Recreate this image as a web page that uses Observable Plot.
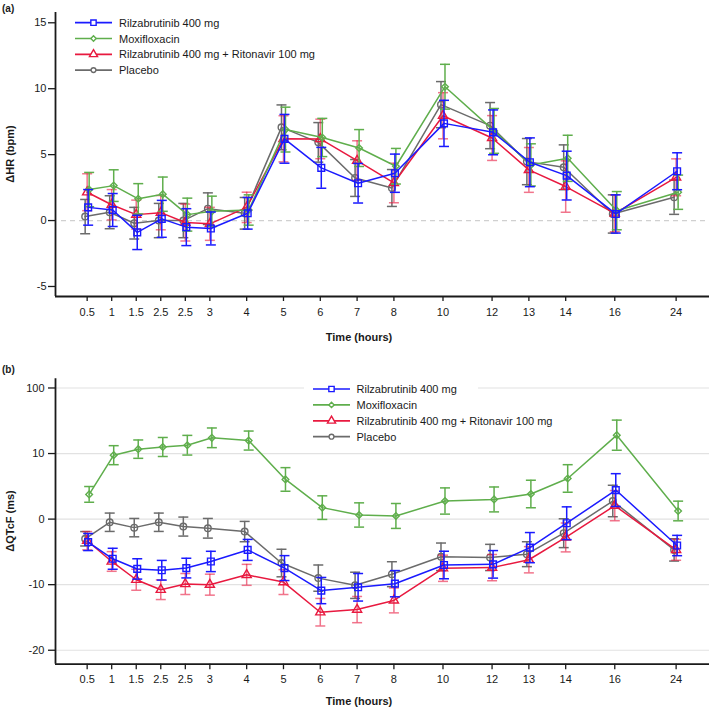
<!DOCTYPE html>
<html>
<head>
<meta charset="utf-8">
<script src="https://cdn.jsdelivr.net/npm/d3@7"></script>
<script src="https://cdn.jsdelivr.net/npm/@observablehq/plot@0.6"></script>
<style>
  html, body { margin: 0; padding: 0; background: #fff; }
  #wrap { width: 709px; }
  #wrap svg { display: block; }
</style>
</head>
<body>
<div id="wrap"></div>
<script>
// ---------------- DATA ----------------
const times = [0.5, 1, 1.5, 2, 2.5, 3, 4, 5, 6, 7, 8, 10, 12, 13, 14, 16, 24];
const timeLabels = ["0.5", "1", "1.5", "2.5", "2.5", "3", "4", "5", "6", "7", "8", "10", "12", "13", "14", "16", "24"];

const seriesNames = ["Rilzabrutinib 400 mg", "Moxifloxacin", "Rilzabrutinib 400 mg + Ritonavir 100 mg", "Placebo"];

// Panel (a): ΔHR (bpm), mean and error half-width
const hrRilza      = [1.0, 0.8, -0.9, 0.13, -0.5, -0.6, 0.55, 6.2, 4.0, 2.83, 3.59, 7.37, 6.69, 4.42, 3.41, 0.5, 3.74];
const hrRilzaErr   = [1.35, 1.25, 1.3, 1.4, 1.4, 1.25, 1.2, 1.85, 1.55, 1.5, 1.45, 1.75, 1.7, 1.85, 1.85, 1.45, 1.4];
const hrMoxi       = [2.35, 2.65, 1.65, 2.0, 0.45, 0.7, 0.8, 6.9, 6.3, 5.5, 4.12, 10.15, 6.8, 4.22, 4.72, 0.75, 2.15];
const hrMoxiErr    = [1.3, 1.2, 1.15, 1.3, 1.25, 1.15, 1.15, 1.7, 1.45, 1.4, 1.35, 1.7, 1.7, 1.6, 1.75, 1.45, 1.3];
const hrRitona     = [2.15, 1.2, 0.45, 0.6, -0.15, -0.25, 1.0, 6.2, 6.19, 4.55, 2.85, 7.95, 6.26, 3.84, 2.58, 0.55, 3.28];
const hrRitonaErr  = [1.4, 1.15, 1.1, 1.3, 1.4, 1.25, 1.15, 1.75, 1.5, 1.5, 1.5, 1.75, 1.7, 1.7, 1.95, 1.4, 1.4];
const hrPlacebo    = [0.3, 0.63, -0.2, 0.0, 0.0, 0.9, 0.55, 7.07, 5.93, 3.23, 2.47, 8.79, 7.2, 4.47, 4.04, 0.5, 1.77];
const hrPlaceboErr = [1.3, 1.25, 1.2, 1.3, 1.3, 1.2, 1.2, 1.7, 1.5, 1.4, 1.4, 1.75, 1.75, 1.75, 1.7, 1.45, 1.3];

// Panel (b): ΔQTcF (ms)
const qtRilza      = [-3.5, -6.05, -7.6, -7.8, -7.47, -6.46, -4.7, -7.47, -10.9, -10.4, -9.85, -7.0, -6.9, -4.35, -0.63, 4.43, -4.03];
const qtRilzaErr   = [1.3, 1.6, 1.55, 1.5, 1.5, 1.55, 1.6, 1.9, 2.0, 2.1, 2.0, 2.1, 2.1, 2.3, 2.5, 2.5, 1.55];
const qtMoxi       = [3.77, 9.75, 10.67, 11.0, 11.27, 12.4, 11.98, 6.05, 1.75, 0.63, 0.48, 2.76, 3.0, 3.83, 6.2, 12.8, 1.24];
const qtMoxiErr    = [1.2, 1.45, 1.4, 1.45, 1.5, 1.5, 1.45, 1.8, 1.8, 1.85, 1.9, 2.0, 1.9, 2.1, 2.1, 2.3, 1.5];
const qtRitona     = [-3.3, -6.46, -9.25, -10.77, -9.9, -10.0, -8.5, -9.6, -14.2, -13.8, -12.4, -7.5, -7.4, -6.2, -2.8, 2.05, -4.68];
const qtRitonaErr  = [1.4, 1.5, 1.6, 1.5, 1.6, 1.6, 1.6, 1.9, 2.1, 2.0, 1.9, 2.0, 2.0, 2.0, 2.2, 2.3, 1.6];
const qtPlacebo    = [-3.0, -0.48, -1.3, -0.48, -1.14, -1.4, -1.9, -6.7, -9.0, -10.1, -8.4, -5.75, -5.85, -5.35, -2.15, 2.76, -4.7];
const qtPlaceboErr = [1.1, 1.4, 1.4, 1.4, 1.45, 1.5, 1.55, 2.1, 2.0, 2.0, 1.9, 2.1, 2.0, 1.9, 2.2, 2.4, 1.7];

// Tick values / labels
const hrTicks = [-5, 0, 5, 10, 15];
const hrTickLabels = ["-5", "0", "5", "10", "15"];
const qtTicks = [-20, -10, 0, 10, 20];
const qtTickLabels = ["-20", "-10", "0", "10", "100"];

// ---------------- STYLE / LAYOUT ----------------
const FONT = "'Liberation Sans', Arial, Helvetica, sans-serif";
const styles = [
  {color: "#1a1aff", symbol: "square",    r: 3.8, lr: 3.0, dx: 1,  errOpacity: 1},
  {color: "#5fae4c", symbol: "diamond2",  r: 3.0, lr: 2.4, dx: 2,  errOpacity: 1},
  {color: "#e8193f", symbol: "triangle",  r: 3.4, lr: 3.0, dx: 0,  errOpacity: 0.6},
  {color: "#6b6b6b", symbol: "circle",    r: 3.3, lr: 2.4, dx: -2, errOpacity: 1}
];
const drawOrder = [3, 2, 1, 0];
// axis slot positions (uneven spacing of the original time axis)
const slotOf = d3.scaleLinear(times, [0, 2, 4, 6, 8, 10, 13, 16, 19, 22, 25, 29, 33, 36, 39, 43, 48]);
const xDomain = [-2.58, 50.72];

const capSymbol = {
  draw(context, size) {
    const w = Math.sqrt(size / Math.PI);
    context.moveTo(-w, 0);
    context.lineTo(w, 0);
  }
};

function buildRows(means, errs) {
  return means.map((m, s) => times.map((t, i) => ({
    series: seriesNames[s], t, slot: slotOf(t), v: m[i], e: errs[s][i]
  })));
}

function seriesMarks(rows) {
  const marks = [];
  for (const s of drawOrder) {
    const st = styles[s];
    const data = rows[s];
    marks.push(
      Plot.ruleX(data, {x: "slot", y1: d => d.v - d.e, y2: d => d.v + d.e, stroke: st.color, strokeWidth: 1.5, strokeOpacity: st.errOpacity, dx: st.dx}),
      Plot.dot(data, {x: "slot", y: d => d.v + d.e, symbol: capSymbol, r: 5, stroke: st.color, strokeWidth: 1.5, strokeOpacity: st.errOpacity, dx: st.dx}),
      Plot.dot(data, {x: "slot", y: d => d.v - d.e, symbol: capSymbol, r: 5, stroke: st.color, strokeWidth: 1.5, strokeOpacity: st.errOpacity, dx: st.dx}),
      Plot.line(data, {x: "slot", y: "v", stroke: st.color, strokeWidth: 1.5, dx: st.dx}),
      Plot.dot(data, {x: "slot", y: "v", symbol: st.symbol, r: st.r, stroke: st.color, fill: "none", strokeWidth: 1.4, dx: st.dx})
    );
  }
  return marks;
}

function addText(svg, x, y, text, opts = {}) {
  const t = svg.append("text")
    .attr("x", x).attr("y", y)
    .attr("font-family", FONT)
    .attr("font-size", opts.size || 11)
    .attr("font-weight", opts.bold ? "bold" : "normal")
    .attr("fill", "#1a1a1a")
    .attr("text-anchor", opts.anchor || "start")
    .attr("dominant-baseline", "central")
    .text(text);
  if (opts.rotate) t.attr("transform", `rotate(-90, ${x}, ${y})`);
  return t;
}

const symbolTypes = {square: d3.symbolSquare, diamond2: d3.symbolDiamond2, triangle: d3.symbolTriangle, circle: d3.symbolCircle};

function addLegend(svg, x0, x1, tx, y0, step, bg) {
  const g = svg.append("g");
  if (bg) g.append("rect").attr("x", bg[0]).attr("y", bg[1]).attr("width", bg[2]).attr("height", bg[3]).attr("fill", "#fff");
  seriesNames.forEach((name, i) => {
    const st = styles[i];
    const y = y0 + i * step;
    g.append("line").attr("x1", x0).attr("x2", x1).attr("y1", y).attr("y2", y)
      .attr("stroke", st.color).attr("stroke-width", 1.7);
    g.append("path").attr("d", d3.symbol(symbolTypes[st.symbol], Math.PI * st.lr * st.lr)())
      .attr("transform", `translate(${(x0 + x1) / 2},${y})`)
      .attr("fill", "#fff").attr("stroke", st.color).attr("stroke-width", 1.4);
    addText(g, tx, y, name, {size: 11});
  });
}

// ---------------- PANEL (a) ----------------
const rowsA = buildRows([hrRilza, hrMoxi, hrRitona, hrPlacebo], [hrRilzaErr, hrMoxiErr, hrRitonaErr, hrPlaceboErr]);
const yDomA = [-5.76, 15.78];
const plotA = Plot.plot({
  width: 709, height: 350,
  marginLeft: 55, marginRight: 0, marginTop: 12, marginBottom: 54,
  style: {fontFamily: FONT, fontSize: "11px", color: "#1a1a1a", background: "#fff"},
  x: {type: "linear", domain: xDomain},
  y: {type: "linear", domain: yDomA},
  marks: [
    Plot.ruleY([0], {stroke: "#d0d0d0", strokeWidth: 1.2, strokeDasharray: "5,4", insetLeft: 6}),
    ...seriesMarks(rowsA),
    Plot.axisY(hrTicks, {tickSize: 7, tickPadding: 2, tickFormat: (d, i) => hrTickLabels[i], fontSize: 11, strokeWidth: 1.3, label: null}),
    Plot.axisX(times.map(t => slotOf(t)), {tickSize: 5, tickPadding: 7, tickFormat: (d, i) => timeLabels[i], fontSize: 11, strokeWidth: 1.3, label: null}),
    Plot.ruleX([xDomain[0]], {stroke: "#1a1a1a", strokeWidth: 1.8}),
    Plot.ruleY([yDomA[0]], {stroke: "#1a1a1a", strokeWidth: 1.8})
  ]
});

// ---------------- PANEL (b) ----------------
const rowsB = buildRows([qtRilza, qtMoxi, qtRitona, qtPlacebo], [qtRilzaErr, qtMoxiErr, qtRitonaErr, qtPlaceboErr]);
const yDomB = [-22.13, 21.4];
const plotB = Plot.plot({
  width: 709, height: 359,
  marginLeft: 55, marginRight: 0, marginTop: 28.3, marginBottom: 45.3,
  style: {fontFamily: FONT, fontSize: "11px", color: "#1a1a1a", background: "#fff"},
  x: {type: "linear", domain: xDomain},
  y: {type: "linear", domain: yDomB},
  marks: [
    Plot.ruleY(qtTicks, {stroke: "#e2e2e2", strokeWidth: 1.2}),
    ...seriesMarks(rowsB),
    Plot.axisY(qtTicks, {tickSize: 7, tickPadding: 4, tickFormat: (d, i) => qtTickLabels[i], fontSize: 11, strokeWidth: 1.3, label: null}),
    Plot.axisX(times.map(t => slotOf(t)), {tickSize: 5.5, tickPadding: 5, tickFormat: (d, i) => timeLabels[i], fontSize: 11, strokeWidth: 1.3, label: null}),
    Plot.ruleX([xDomain[0]], {stroke: "#1a1a1a", strokeWidth: 1.8}),
    Plot.ruleY([yDomB[0]], {stroke: "#1a1a1a", strokeWidth: 1.8})
  ]
});

const wrap = document.getElementById("wrap");
wrap.appendChild(plotA);
wrap.appendChild(plotB);

// annotations
const svgA = d3.select(plotA);
addText(svgA, 2, 8, "(a)", {bold: true, size: 10});
addText(svgA, 10, 154, "ΔHR (bpm)", {bold: true, anchor: "middle", rotate: true});
addText(svgA, 359, 337, "Time (hours)", {bold: true, anchor: "middle"});
addLegend(svgA, 75, 112, 119, 22.7, 15.8, null);

const svgB = d3.select(plotB);
addText(svgB, 2, 19, "(b)", {bold: true, size: 10});
addText(svgB, 10, 171, "ΔQTcF (ms)", {bold: true, anchor: "middle", rotate: true});
addText(svgB, 359, 351, "Time (hours)", {bold: true, anchor: "middle"});
addLegend(svgB, 313, 350, 356.5, 39, 15.9, [304, 30, 174, 64]);
</script>
</body>
</html>
